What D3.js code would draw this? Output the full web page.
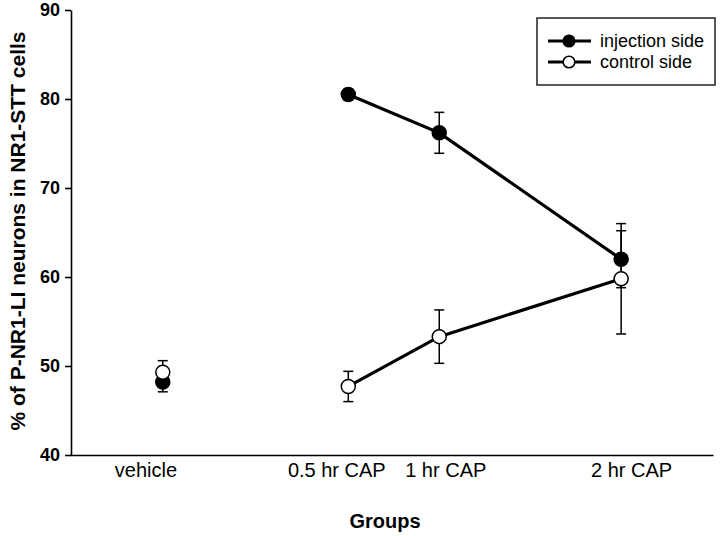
<!DOCTYPE html>
<html>
<head>
<meta charset="utf-8">
<script src="https://cdn.jsdelivr.net/npm/d3@7"></script>
<style>
  body { margin: 0; background: #fff; }
  svg { display: block; }
  text { font-family: Arial, "Liberation Sans", Helvetica, sans-serif; fill: #000; }
</style>
</head>
<body>
<svg id="chart" width="720" height="536"></svg>
<script>
// ---- data ----
const groups = ["vehicle", "0.5 hr CAP", "1 hr CAP", "2 hr CAP"];
const groupX = [-0.52, 0.5, 1, 2];            // x position of each group (hours; vehicle placed left)
const labelX = [-0.615, 0.434, 1.033, 2.055]; // x positions of the group tick labels
const injection = [48.2, 80.5, 76.2, 62.0];
const injectionErr = [1.1, 0.6, 2.3, 3.2];
const control = [49.3, 47.7, 53.3, 59.8];
const controlErr = [1.3, 1.7, 3.0, 6.2];
const yTicks = [40, 50, 60, 70, 80, 90];
const seriesNames = ["injection side", "control side"];

// ---- layout ----
const svg = d3.select("#chart");
const x = d3.scaleLinear().domain([-1.03, 2.505]).range([70, 713]);
const y = d3.scaleLinear().domain([40, 90]).range([455, 10]);

// axes
const yAxis = d3.axisLeft(y).tickValues(yTicks).tickSize(6).tickSizeOuter(0).tickPadding(5);
const gy = svg.append("g").attr("transform", "translate(71,0)").call(yAxis);
gy.selectAll("text").style("font-size", "18px").style("font-weight", "bold");
gy.selectAll("line, path").attr("stroke", "#000").attr("stroke-width", 1.6);

const xAxis = d3.axisBottom(x).tickValues(labelX)
  .tickFormat((d, i) => groups[i]).tickSize(0).tickSizeOuter(0).tickPadding(8);
const gx = svg.append("g").attr("transform", "translate(0,455)").call(xAxis);
gx.select(".domain").attr("stroke", "#000").attr("stroke-width", 1.6);
gx.selectAll("text").style("font-size", "20px");

// axis titles
svg.append("text").attr("x", 385).attr("y", 528).attr("text-anchor", "middle")
  .style("font-size", "20px").style("font-weight", "bold").text("Groups");
svg.append("text").attr("transform", "translate(25,231) rotate(-90)").attr("text-anchor", "middle")
  .style("font-size", "21px").style("font-weight", "bold")
  .text("% of P-NR1-LI neurons in NR1-STT cells");

// series
const series = [
  { vals: injection, err: injectionErr, fill: "#000" },
  { vals: control, err: controlErr, fill: "#fff" }
];
const line = d3.line().x(d => x(d.x)).y(d => y(d.v));

series.forEach(s => {
  const pts = s.vals.map((v, i) => ({ x: groupX[i], v: v, e: s.err[i] }));
  // error bars
  const eb = svg.append("g").attr("stroke", "#000").attr("stroke-width", 1.5);
  pts.forEach(p => {
    eb.append("line").attr("x1", x(p.x)).attr("x2", x(p.x)).attr("y1", y(p.v - p.e)).attr("y2", y(p.v + p.e));
    [p.v - p.e, p.v + p.e].forEach(ev => {
      eb.append("line").attr("x1", x(p.x) - 5).attr("x2", x(p.x) + 5).attr("y1", y(ev)).attr("y2", y(ev));
    });
  });
  // connecting line (CAP groups only)
  svg.append("path").datum(pts.slice(1)).attr("d", line)
    .attr("fill", "none").attr("stroke", "#000").attr("stroke-width", 3.2);
});
series.forEach(s => {
  svg.append("g").selectAll("circle").data(s.vals).join("circle")
    .attr("cx", (d, i) => x(groupX[i])).attr("cy", d => y(d)).attr("r", 7)
    .attr("fill", s.fill).attr("stroke", "#000").attr("stroke-width", 1.5);
});

// legend
const lg = svg.append("g");
lg.append("rect").attr("x", 537).attr("y", 18).attr("width", 178).attr("height", 67)
  .attr("fill", "#fff").attr("stroke", "#222").attr("stroke-width", 1.5);
seriesNames.forEach((name, i) => {
  const ly = 41 + i * 21;
  lg.append("line").attr("x1", 548).attr("x2", 591).attr("y1", ly).attr("y2", ly)
    .attr("stroke", "#000").attr("stroke-width", 3);
  lg.append("circle").attr("cx", 569).attr("cy", ly).attr("r", 5.8)
    .attr("fill", series[i].fill).attr("stroke", "#000").attr("stroke-width", 1.5);
  lg.append("text").attr("x", 600).attr("y", ly + 6).style("font-size", "18px").text(name);
});
</script>
</body>
</html>
